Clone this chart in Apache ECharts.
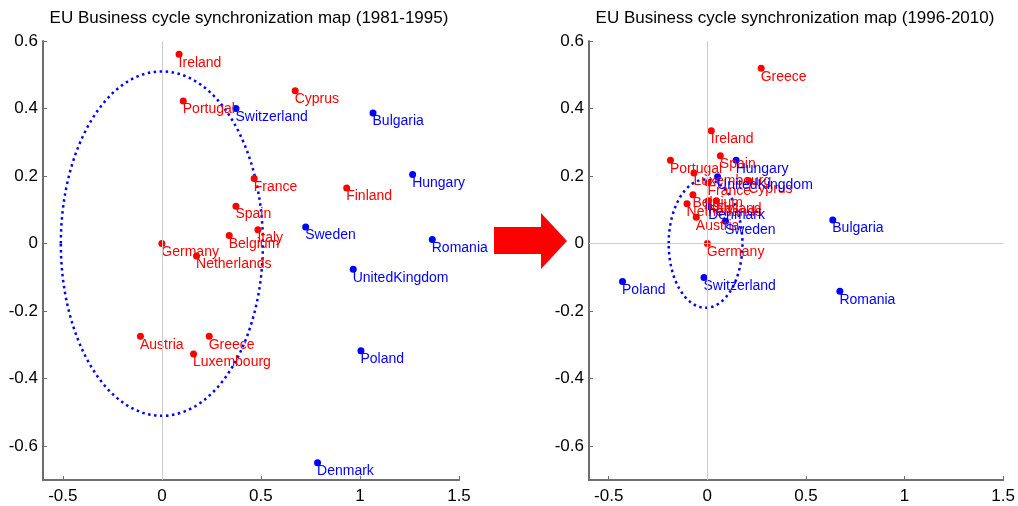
<!DOCTYPE html>
<html>
<head>
<meta charset="utf-8">
<title>EU Business cycle synchronization map</title>
<script src="https://cdn.jsdelivr.net/npm/echarts@6.0.0/dist/echarts.min.js"></script>
<style>
    html, body { margin: 0; padding: 0; background: #fff; }
    #main { width: 1018px; height: 506px; }
</style>
</head>
<body>
<div id="main"></div>
<script type="text/javascript">
    // 1981-1995 : red = euro core, blue = others
    var redNames1 = ['Ireland', 'Portugal', 'Cyprus', 'France', 'Finland', 'Spain', 'Italy', 'Belgium', 'Germany', 'Netherlands', 'Austria', 'Greece', 'Luxembourg'];
    var redX1 = [0.087, 0.108, 0.673, 0.466, 0.933, 0.374, 0.485, 0.340, 0.000, 0.175, -0.108, 0.239, 0.160];
    var redY1 = [0.561, 0.422, 0.453, 0.193, 0.165, 0.111, 0.041, 0.024, 0.000, -0.037, -0.274, -0.274, -0.327];
    var blueNames1 = ['Switzerland', 'Bulgaria', 'Hungary', 'Sweden', 'Romania', 'UnitedKingdom', 'Poland', 'Denmark'];
    var blueX1 = [0.374, 1.066, 1.266, 0.726, 1.365, 0.966, 1.005, 0.786];
    var blueY1 = [0.400, 0.387, 0.205, 0.049, 0.012, -0.076, -0.317, -0.649];
    var ringCenter1 = [0, 0];
    var ringRadius1 = [0.51, 0.51];

    // 1996-2010
    var redNames2 = ['Greece', 'Ireland', 'Spain', 'Portugal', 'Luxembourg', 'France', 'Cyprus', 'Belgium', 'Netherlands', 'Italy', 'Finland', 'Austria', 'Germany'];
    var redX2 = [0.273, 0.020, 0.066, -0.187, -0.068, 0.003, 0.210, -0.073, -0.103, 0.005, 0.045, -0.056, 0.000];
    var redY2 = [0.519, 0.334, 0.260, 0.247, 0.209, 0.180, 0.186, 0.145, 0.118, 0.127, 0.127, 0.078, 0.000];
    var blueNames2 = ['Hungary', 'UnitedKingdom', 'Denmark', 'Sweden', 'Bulgaria', 'Switzerland', 'Poland', 'Romania'];
    var blueX2 = [0.146, 0.052, 0.007, 0.092, 0.636, -0.017, -0.430, 0.672];
    var blueY2 = [0.247, 0.198, 0.110, 0.066, 0.070, -0.100, -0.112, -0.141];
    var ringCenter2 = [-0.009, 0];
    var ringRadius2 = [0.187, 0.19];

    var xTicks = [-0.5, 0, 0.5, 1, 1.5];
    var yTicks = [-0.6, -0.4, -0.2, 0, 0.2, 0.4, 0.6];
    var titles = ['EU Business cycle synchronization map (1981-1995)', 'EU Business cycle synchronization map (1996-2010)'];

    var FONT = 'Liberation Sans, Arial, sans-serif';
    var RED = '#ff0000', BLUE = '#0000ff';

    function points(names, xs, ys) {
        var out = [];
        for (var i = 0; i < names.length; i++) {
            out.push({name: names[i], value: [xs[i], ys[i]]});
        }
        return out;
    }

    function scatter(idx, names, xs, ys, color) {
        return {
            type: 'scatter',
            xAxisIndex: idx,
            yAxisIndex: idx,
            symbolSize: 7,
            z: 3,
            itemStyle: {color: color, opacity: 1},
            label: {
                show: true,
                formatter: '{b}',
                position: [3, 5],
                align: 'left',
                verticalAlign: 'top',
                color: color,
                opacity: 1,
                fontSize: 14,
                fontFamily: FONT
            },
            data: points(names, xs, ys)
        };
    }

    function ring(idx, center, radius) {
        return {
            type: 'custom',
            xAxisIndex: idx,
            yAxisIndex: idx,
            z: 2,
            silent: true,
            renderItem: function (params, api) {
                var c = api.coord(center);
                var s = api.size(radius);
                return {
                    type: 'ellipse',
                    shape: {cx: c[0], cy: c[1], rx: s[0], ry: s[1]},
                    style: {fill: 'none', stroke: BLUE, lineWidth: 2.5, lineDash: [2.5, 3.5]}
                };
            },
            data: [center]
        };
    }

    function zeroLines(idx, xEnd) {
        return {
            type: 'line',
            xAxisIndex: idx,
            yAxisIndex: idx,
            data: [],
            z: 1,
            silent: true,
            markLine: {
                silent: true,
                symbol: 'none',
                label: {show: false},
                lineStyle: {color: '#cccccc', width: 1, type: 'solid'},
                data: [
                    [{coord: [-0.6, 0]}, {coord: [xEnd, 0]}],
                    [{coord: [0, -0.7]}, {coord: [0, 0.6]}]
                ]
            }
        };
    }

    function xAxis(idx) {
        return {
            type: 'value',
            gridIndex: idx,
            min: -0.6,
            max: 1.5,
            axisLine: {show: true, onZero: false, lineStyle: {color: '#6e6e6e', width: 2}},
            axisTick: {show: true, inside: true, length: 4, customValues: xTicks, lineStyle: {color: '#6e6e6e'}},
            axisLabel: {customValues: xTicks, color: '#000', fontSize: 17, fontFamily: FONT, margin: 8},
            splitLine: {show: false}
        };
    }

    function yAxis(idx) {
        return {
            type: 'value',
            gridIndex: idx,
            min: -0.7,
            max: 0.6,
            axisLine: {show: true, onZero: false, lineStyle: {color: '#6e6e6e', width: 2}},
            axisTick: {show: true, inside: true, length: 4, customValues: yTicks, lineStyle: {color: '#6e6e6e'}},
            axisLabel: {customValues: yTicks, color: '#000', fontSize: 17, fontFamily: FONT, margin: 5},
            splitLine: {show: false}
        };
    }

    var myChart = echarts.init(document.getElementById('main'));

    var option = {
        animation: false,
        backgroundColor: '#fff',
        title: [
            {text: titles[0], left: 249, top: 10, textAlign: 'center', padding: 0,
             textStyle: {fontSize: 17, fontWeight: 'normal', color: '#000', fontFamily: FONT}},
            {text: titles[1], left: 795, top: 10, textAlign: 'center', padding: 0,
             textStyle: {fontSize: 17, fontWeight: 'normal', color: '#000', fontFamily: FONT}}
        ],
        grid: [
            {left: 43, top: 41, width: 416, height: 439},
            {left: 589, top: 41, width: 416, height: 439}
        ],
        xAxis: [xAxis(0), xAxis(1)],
        yAxis: [yAxis(0), yAxis(1)],
        graphic: [{
            type: 'polygon',
            silent: true,
            shape: {points: [[494, 227], [541, 227], [541, 213], [567, 241], [541, 269], [541, 254], [494, 254]]},
            style: {fill: RED}
        }],
        series: [
            zeroLines(0, 1.64),
            zeroLines(1, 1.5),
            ring(0, ringCenter1, ringRadius1),
            ring(1, ringCenter2, ringRadius2),
            scatter(0, redNames1, redX1, redY1, RED),
            scatter(0, blueNames1, blueX1, blueY1, BLUE),
            scatter(1, redNames2, redX2, redY2, RED),
            scatter(1, blueNames2, blueX2, blueY2, BLUE)
        ]
    };

    myChart.setOption(option);
</script>
</body>
</html>
